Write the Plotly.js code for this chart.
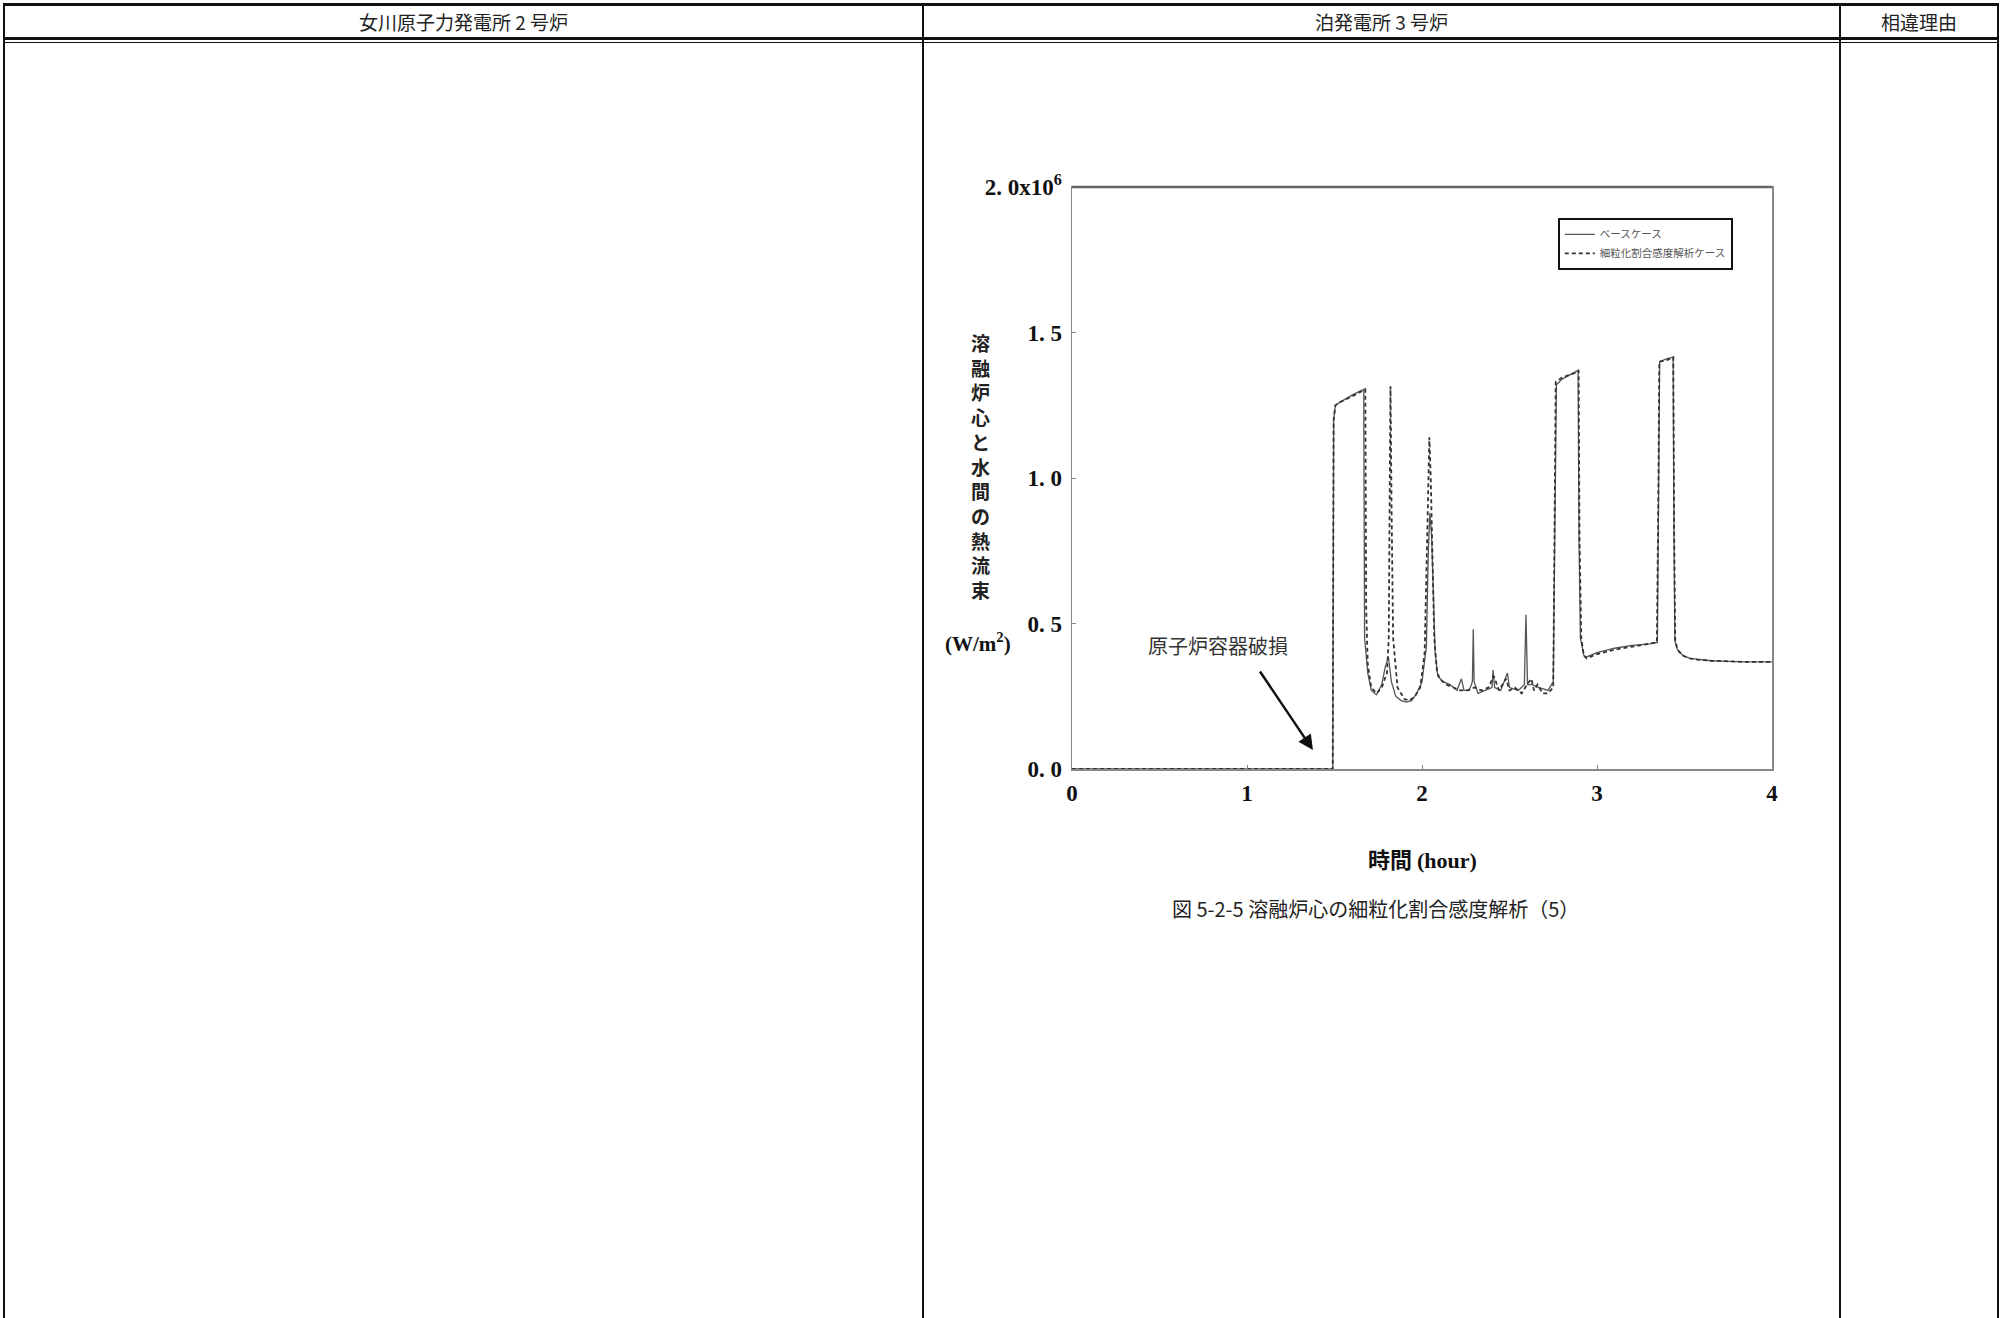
<!DOCTYPE html>
<html>
<head>
<meta charset="utf-8">
<script src="https://cdn.plot.ly/plotly-3.0.1.min.js"></script>
<style>
  html, body { margin: 0; padding: 0; background: #ffffff; }
  #page { position: relative; width: 2002px; height: 1318px; overflow: hidden; background: #fff; }
  #chart { position: absolute; left: 0; top: 0; width: 2002px; height: 1318px; }
  .ln { position: absolute; background: #111; z-index: 5; }
  .hd { position: absolute; top: 8px; height: 28px; line-height: 28px; text-align: center;
        font-family: "Noto Sans CJK JP", sans-serif; font-size: 19px; color: #222; z-index: 6; }
</style>
</head>
<body>
<div id="page">
  <div id="chart"></div>
  <!-- table frame -->
  <div class="ln" style="left:3px; top:3px; width:1996px; height:3px;"></div>
  <div class="ln" style="left:3px; top:37px; width:1996px; height:3px;"></div>
  <div class="ln" style="left:3px; top:42px; width:1996px; height:1px;"></div>
  <div class="ln" style="left:3px; top:3px; width:2px; height:1315px;"></div>
  <div class="ln" style="left:922px; top:3px; width:2px; height:1315px;"></div>
  <div class="ln" style="left:1839px; top:3px; width:2px; height:1315px;"></div>
  <div class="ln" style="left:1997px; top:3px; width:2px; height:1315px;"></div>
  <div class="hd" style="left:5px; width:917px;">女川原子力発電所 2 号炉</div>
  <div class="hd" style="left:924px; width:915px;">泊発電所 3 号炉</div>
  <div class="hd" style="left:1841px; width:156px;">相違理由</div>
</div>
<script>
// ---- data (heat flux, x10^6 W/m2, vs time in hours) ----
const baseName = "ベースケース";
const sensName = "細粒化割合感度解析ケース";

const baseTime = [0, 1.49, 1.495, 1.505, 1.53, 1.60, 1.667, 1.672, 1.69, 1.71, 1.74, 1.77, 1.79, 1.808, 1.825, 1.85, 1.88, 1.91, 1.94, 1.97, 2.00, 2.025, 2.036, 2.045, 2.055, 2.065, 2.075, 2.09, 2.12, 2.16, 2.20, 2.225, 2.24, 2.27, 2.288, 2.293, 2.298, 2.32, 2.36, 2.40, 2.406, 2.415, 2.45, 2.488, 2.50, 2.55, 2.585, 2.594, 2.603, 2.63, 2.67, 2.72, 2.75, 2.762, 2.768, 2.80, 2.83, 2.86, 2.892, 2.897, 2.905, 2.925, 2.94, 3.0, 3.1, 3.2, 3.3, 3.345, 3.352, 3.358, 3.40, 3.435, 3.44, 3.445, 3.46, 3.49, 3.53, 3.57, 3.65, 3.75, 3.85, 4.0];
const baseFlux = [0, 0, 1.20, 1.25, 1.26, 1.285, 1.305, 0.45, 0.33, 0.27, 0.255, 0.29, 0.35, 0.385, 0.30, 0.25, 0.235, 0.23, 0.235, 0.26, 0.30, 0.42, 0.75, 0.88, 0.80, 0.60, 0.40, 0.32, 0.30, 0.29, 0.27, 0.31, 0.27, 0.27, 0.30, 0.48, 0.30, 0.26, 0.27, 0.28, 0.34, 0.28, 0.27, 0.33, 0.28, 0.27, 0.29, 0.53, 0.29, 0.29, 0.28, 0.27, 0.30, 0.90, 1.32, 1.34, 1.35, 1.36, 1.37, 0.80, 0.45, 0.39, 0.385, 0.40, 0.415, 0.425, 0.43, 0.435, 0.90, 1.40, 1.41, 1.415, 0.80, 0.44, 0.41, 0.39, 0.38, 0.377, 0.372, 0.37, 0.368, 0.368];

const sensTime = [0, 1.49, 1.495, 1.505, 1.53, 1.60, 1.676, 1.681, 1.69, 1.71, 1.74, 1.77, 1.80, 1.81, 1.816, 1.82, 1.826, 1.835, 1.86, 1.90, 1.93, 1.96, 1.99, 2.015, 2.03, 2.042, 2.05, 2.06, 2.07, 2.085, 2.10, 2.14, 2.18, 2.22, 2.26, 2.30, 2.34, 2.38, 2.41, 2.44, 2.48, 2.50, 2.53, 2.57, 2.60, 2.625, 2.64, 2.66, 2.69, 2.72, 2.75, 2.758, 2.764, 2.80, 2.84, 2.87, 2.895, 2.90, 2.91, 2.925, 2.94, 3.0, 3.1, 3.2, 3.3, 3.342, 3.35, 3.356, 3.40, 3.436, 3.441, 3.447, 3.46, 3.49, 3.53, 3.57, 3.65, 3.75, 3.85, 4.0];
const sensFlux = [0, 0, 1.20, 1.25, 1.26, 1.28, 1.305, 0.55, 0.36, 0.28, 0.26, 0.28, 0.33, 0.45, 1.0, 1.315, 0.9, 0.45, 0.28, 0.24, 0.235, 0.25, 0.28, 0.40, 0.80, 1.14, 1.0, 0.65, 0.45, 0.34, 0.31, 0.29, 0.28, 0.27, 0.27, 0.28, 0.27, 0.28, 0.32, 0.27, 0.31, 0.27, 0.28, 0.26, 0.29, 0.31, 0.27, 0.29, 0.26, 0.26, 0.28, 0.80, 1.33, 1.345, 1.355, 1.36, 1.37, 0.80, 0.45, 0.39, 0.38, 0.395, 0.41, 0.42, 0.43, 0.435, 0.90, 1.40, 1.405, 1.415, 0.80, 0.44, 0.41, 0.39, 0.38, 0.376, 0.372, 0.37, 0.368, 0.368];

const xTickVals = [0, 1, 2, 3, 4];
const xTickText = ["0", "1", "2", "3", "4"];
const yTickVals = [0, 0.5, 1.0, 1.5, 2.0];
const yTickText = ["0. 0", "0. 5", "1. 0", "1. 5", "2. 0x10<sup>6</sup>"];

const yTitleChars = ["溶", "融", "炉", "心", "と", "水", "間", "の", "熱", "流", "束"];
const yUnit = "(W/m<sup>2</sup>)";
const xTitleJa = "時間";
const xTitleUnit = "(hour)";
const breachLabel = "原子炉容器破損";
const breachTime = 1.377;
const breachFlux = 0.065;
const caption = "図 5-2-5 溶融炉心の細粒化割合感度解析（5）";

// ---- chart ----
const serifBold = "Liberation Serif, DejaVu Serif, serif";
const cjk = "Noto Sans CJK JP, sans-serif";

const traces = [
  { x: baseTime, y: baseFlux, name: baseName, type: "scatter", mode: "lines",
    line: { color: "#555555", width: 1.3 } },
  { x: sensTime, y: sensFlux, name: sensName, type: "scatter", mode: "lines",
    line: { color: "#333333", width: 1.8, dash: "4px,3px" } }
];

const layout = {
  width: 2002, height: 1318, autosize: false,
  margin: { l: 1072, r: 230, t: 187, b: 549, pad: 0 },
  paper_bgcolor: "rgba(0,0,0,0)", plot_bgcolor: "#ffffff",
  showlegend: true,
  legend: {
    x: 0.944, y: 0.947, xanchor: "right", yanchor: "top",
    bgcolor: "#ffffff", bordercolor: "#111111", borderwidth: 2,
    font: { family: cjk, size: 10.5, color: "#555555" },
    tracegroupgap: 0, itemwidth: 30
  },
  xaxis: {
    range: [0, 4], tickvals: xTickVals, ticktext: xTickText,
    ticks: "inside", ticklen: 4, tickcolor: "#888888",
    showline: true, linecolor: "#888888", linewidth: 1.5, mirror: true,
    showgrid: false, zeroline: false,
    tickfont: { family: serifBold, size: 23, color: "#111111", weight: "bold" },
    ticklabelstandoff: 3
  },
  yaxis: {
    range: [0, 2.0], tickvals: yTickVals, ticktext: yTickText,
    ticks: "inside", ticklen: 4, tickcolor: "#888888",
    showline: true, linecolor: "#888888", linewidth: 1.5, mirror: true,
    showgrid: false, zeroline: false,
    tickfont: { family: serifBold, size: 23, color: "#111111", weight: "bold" },
    ticklabelstandoff: 4
  },
  shapes: [
    { type: "line", xref: "paper", yref: "paper", x0: 0, x1: 1, y0: 1, y1: 1,
      line: { color: "#666666", width: 2.5 } }
  ],
  annotations: [
    { xref: "paper", yref: "paper", x: -0.131, y: 0.52, xanchor: "center", yanchor: "middle",
      text: yTitleChars.join("<br>"), showarrow: false,
      font: { family: cjk, size: 19, color: "#222222", weight: "bold" } },
    { xref: "paper", yref: "paper", x: -0.134, y: 0.218, xanchor: "center", yanchor: "middle",
      text: yUnit, showarrow: false,
      font: { family: serifBold, size: 21, color: "#111111", weight: "bold" } },
    { xref: "x", yref: "y", x: 0.834, y: 0.423, xanchor: "center", yanchor: "middle",
      text: breachLabel, showarrow: false,
      font: { family: cjk, size: 20, color: "#333333" } },
    { xref: "x", yref: "y", x: breachTime, y: breachFlux, text: " ",
      showarrow: true, ax: -56, ay: -83, axref: "pixel", ayref: "pixel",
      arrowhead: 2, arrowsize: 1.2, arrowwidth: 2.5, arrowcolor: "#111111", standoff: 0 },
    { xref: "paper", yref: "paper", x: 0.5, y: -0.153, xanchor: "center", yanchor: "middle",
      text: "<b>" + xTitleJa + "</b> <span style=\"font-family:Liberation Serif\"><b>" + xTitleUnit + "</b></span>",
      showarrow: false,
      font: { family: cjk, size: 22, color: "#111111" } },
    { xref: "paper", yref: "paper", x: 0.434, y: -0.2405, xanchor: "center", yanchor: "middle",
      text: caption, showarrow: false,
      font: { family: cjk, size: 20, color: "#222222" } }
  ]
};

Plotly.newPlot("chart", traces, layout, { staticPlot: true, displayModeBar: false });
</script>
</body>
</html>
